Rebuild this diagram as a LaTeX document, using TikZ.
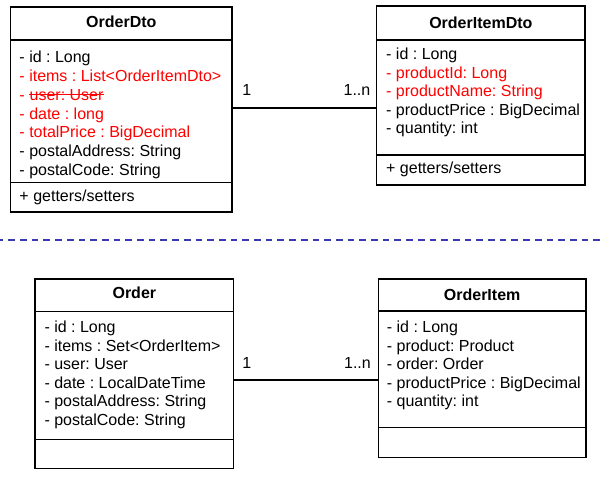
\documentclass[tikz,border=0pt]{standalone}
\usepackage{fontspec}
\setmainfont{Liberation Sans}
\definecolor{chgred}{HTML}{FF0000}
\definecolor{sepblue}{HTML}{3A3AB0}
\frenchspacing
\begin{document}
\begin{tikzpicture}[x=1pt,y=-1pt,
  part/.style={draw, line width=1.2pt, inner sep=0pt, outer sep=0pt, anchor=north west},
  ctitle/.style={font=\fontsize{16}{19}\selectfont\bfseries, anchor=base, inner sep=0pt},
  attr/.style={font=\fontsize{16}{19}\selectfont, anchor=base west, inner sep=0pt},
  chg/.style={attr, text=chgred},
  mult/.style={font=\fontsize{16}{19}\selectfont, inner sep=0pt},
  assoc/.style={line width=1.2pt},
  strike/.style={chgred, line width=0.9pt},
  sepline/.style={sepblue, line width=2pt, dash pattern=on 6.7pt off 5pt, dash phase=3.35pt}]
\useasboundingbox (0,0) rectangle (600,484);

% ---------- OrderDto ----------
\node[part, minimum width=221.3pt, minimum height=33pt] (dtoh) at (10.7,7) {};
\node[part, minimum width=221.3pt, minimum height=142.7pt] (dtob) at (10.7,40) {};
\node[part, minimum width=221.3pt, minimum height=29.3pt] (dtom) at (10.7,182.7) {};
\node[ctitle] (dtot) at (121.35,27.8) {OrderDto};
\node[attr] (dto1) at (19.3,63) {- id : Long};
\node[chg]  (dto2) at (19.3,81.7) {- items : List<OrderItemDto>};
\node[chg]  (dto3a) at (19.3,100.4) {-\kern.278em};
\node[chg]  (dto3b) at (dto3a.base east) {user: User};
\draw[strike] ([yshift=5.7pt]dto3b.base west) -- ([yshift=5.7pt]dto3b.base east);
\node[chg]  (dto4) at (19.3,119.1) {- date : long};
\node[chg]  (dto5) at (19.3,137.8) {- totalPrice : BigDecimal};
\node[attr] (dto6) at (19.3,156.5) {- postalAddress: String};
\node[attr] (dto7) at (19.3,175.2) {- postalCode: String};
\node[attr] (dtog) at (19.3,201) {+ getters/setters};

% ---------- OrderItemDto ----------
\node[part, minimum width=208.3pt, minimum height=34pt] (idh) at (376.7,6) {};
\node[part, minimum width=208.3pt, minimum height=115pt] (idb) at (376.7,40) {};
\node[part, minimum width=208.3pt, minimum height=30pt] (idm) at (376.7,155) {};
\node[ctitle] (idt) at (480.85,28.5) {OrderItemDto};
\node[attr] (id1) at (386,60) {- id : Long};
\node[chg]  (id2) at (386,78.5) {- productId: Long};
\node[chg]  (id3) at (386,97) {- productName: String};
\node[attr] (id4) at (386,115.5) {- productPrice : BigDecimal};
\node[attr] (id5) at (386,134) {- quantity: int};
\node[attr] (idg) at (386,174) {+ getters/setters};

% association (top)
\draw[assoc] (dtob.east |- 0,108) -- (idb.west |- 0,108);
\node[mult, anchor=base] (m1) at (246.7,96) {1};
\node[mult, anchor=base east] (m2) at (370.5,96) {1..n};

% ---------- separator ----------
\coordinate (sl) at (0,240);
\coordinate (sr) at (600,240);
\draw[sepline] (sl) -- (sr);

% ---------- Order ----------
\node[part, minimum width=198.7pt, minimum height=32.7pt] (oh) at (35,279) {};
\node[part, minimum width=198.7pt, minimum height=127.6pt] (ob) at (35,311.7) {};
\node[part, minimum width=198.7pt, minimum height=29.4pt] (om) at (35,439.3) {};
\node[ctitle] (ot) at (134.35,298.5) {Order};
\node[attr] (o1) at (44.3,332.7) {- id : Long};
\node[attr] (o2) at (44.3,351) {- items : Set<OrderItem>};
\node[attr] (o3) at (44.3,369.5) {- user: User};
\node[attr] (o4) at (44.3,388) {- date : LocalDateTime};
\node[attr] (o5) at (44.3,406.5) {- postalAddress: String};
\node[attr] (o6) at (44.3,425) {- postalCode: String};

% ---------- OrderItem ----------
\node[part, minimum width=207.7pt, minimum height=32pt] (ih) at (378.3,279) {};
\node[part, minimum width=207.7pt, minimum height=116.3pt] (ib) at (378.3,311) {};
\node[part, minimum width=207.7pt, minimum height=30pt] (im) at (378.3,427.3) {};
\node[ctitle] (it) at (482.15,300) {OrderItem};
\node[attr] (i1) at (386.7,332.7) {- id : Long};
\node[attr] (i2) at (386.7,351) {- product: Product};
\node[attr] (i3) at (386.7,369.5) {- order: Order};
\node[attr] (i4) at (386.7,388) {- productPrice : BigDecimal};
\node[attr] (i5) at (386.7,406.5) {- quantity: int};

% association (bottom)
\draw[assoc] (ob.east |- 0,380) -- (ib.west |- 0,380);
\node[mult, anchor=base] (m3) at (246.7,368) {1};
\node[mult, anchor=base east] (m4) at (371,368) {1..n};
\end{tikzpicture}
\end{document}
